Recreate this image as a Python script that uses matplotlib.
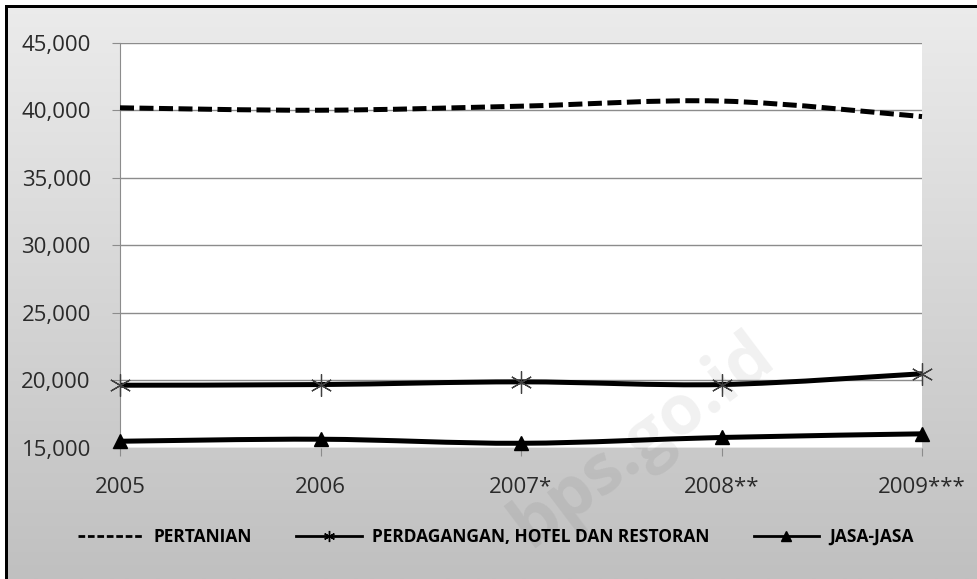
import matplotlib
matplotlib.use("Agg")
import matplotlib.pyplot as plt
import numpy as np
from matplotlib.path import Path
from matplotlib.patches import PathPatch, Rectangle
from matplotlib.lines import Line2D
from matplotlib.font_manager import FontProperties

# ---- data -------------------------------------------------------------
years = ["2005", "2006", "2007*", "2008**", "2009***"]
pertanian = [40200, 40020, 40320, 40700, 39550]
perdagangan = [19650, 19700, 19900, 19700, 20500]
jasa = [15500, 15650, 15350, 15780, 16050]
y_ticks = [15000, 20000, 25000, 30000, 35000, 40000, 45000]
series_names = ["PERTANIAN", "PERDAGANGAN, HOTEL DAN RESTORAN", "JASA-JASA"]

W, H = 977, 579
TICK_FONT = "Open Sans"


def smooth_path(xs, ys):
    """Cubic Bezier path through the points (Catmull-Rom style smoothing)."""
    pts = np.column_stack([xs, ys]).astype(float)
    n = len(pts)
    verts = [pts[0]]
    codes = [Path.MOVETO]
    for i in range(n - 1):
        p0 = pts[max(i - 1, 0)]
        p1 = pts[i]
        p2 = pts[i + 1]
        p3 = pts[min(i + 2, n - 1)]
        verts += [p1 + (p2 - p0) / 6.0, p2 - (p3 - p1) / 6.0, p2]
        codes += [Path.CURVE4] * 3
    return Path(verts, codes)


fig = plt.figure(figsize=(W / 100, H / 100), dpi=100)

# ---- gradient background with frame ------------------------------------
bg = fig.add_axes([0, 0, 1, 1], zorder=-10)
shade = np.linspace(236, 192, H)[:, None, None] / 255.0
grad = np.repeat(shade, 3, axis=2)
bg.imshow(grad, aspect="auto", extent=[0, W, H, 0], interpolation="bilinear")
bg.add_patch(Rectangle((0, 0), 5, H, color="white", lw=0))
bg.add_patch(Rectangle((0, 0), W, 5, color="white", lw=0))
bg.add_patch(Rectangle((5, 5), 3, H, color="black", lw=0))
bg.add_patch(Rectangle((5, 5), W, 3, color="black", lw=0))
bg.set_xlim(0, W)
bg.set_ylim(H, 0)
bg.axis("off")

# ---- plot area ----------------------------------------------------------
left, right, top, bottom = 120, 922, 43, 448
ax = fig.add_axes([left / W, (H - bottom) / H, (right - left) / W, (bottom - top) / H])
ax.set_facecolor("white")
ax.set_xlim(0, 4)
ax.set_ylim(15000, 45000)
ax.set_axisbelow(True)

x = np.arange(len(years))
ax.set_xticks(x)
ax.set_xticklabels(years)
ax.set_yticks(y_ticks)
ax.set_yticklabels([f"{v:,}" for v in y_ticks])
ax.yaxis.grid(True, color="#8c8c8c", lw=1.0)

for s in ("top", "right", "bottom"):
    ax.spines[s].set_visible(False)
ax.spines["left"].set_color("#8c8c8c")
ax.spines["left"].set_linewidth(0.8)

ax.tick_params(axis="y", length=6, width=0.8, color="#8c8c8c", pad=15,
               labelsize=16, labelcolor="#2a2a2a")
ax.tick_params(axis="x", length=6, width=0.8, color="#8c8c8c", pad=15,
               labelsize=16, labelcolor="#2a2a2a")
for lab in ax.get_xticklabels() + ax.get_yticklabels():
    lab.set_fontfamily(TICK_FONT)

# ---- series -------------------------------------------------------------
ax.add_patch(PathPatch(smooth_path(x, pertanian), fill=False, lw=3.6,
                       ls=(0, (2.8, 1.1)), ec="black", capstyle="butt",
                       clip_on=False, zorder=3))
ax.add_patch(PathPatch(smooth_path(x, perdagangan), fill=False, lw=3.6,
                       ec="black", clip_on=False, zorder=3))
ax.plot(x, perdagangan, ls="none", marker=(6, 2, 0), ms=16, mew=0.9,
        mec="#404040", clip_on=False, zorder=4)
ax.add_patch(PathPatch(smooth_path(x, jasa), fill=False, lw=3.6,
                       ec="black", clip_on=False, zorder=3))
ax.plot(x, jasa, ls="none", marker="^", ms=10, color="black",
        clip_on=False, zorder=4)

# ---- legend -------------------------------------------------------------
handles = [
    Line2D([], [], color="black", lw=2, ls=(0, (2.4, 1.0))),
    Line2D([], [], color="black", lw=2, marker=(6, 2, 0), ms=8, mew=1),
    Line2D([], [], color="black", lw=2, marker="^", ms=7),
]
fig.legend(handles, series_names, loc="center",
           bbox_to_anchor=(496 / W, 1 - 537 / H), ncol=3, frameon=False,
           prop=FontProperties(family=TICK_FONT, weight="bold", size=12.5),
           handlelength=3.75, handletextpad=0.6, columnspacing=2.55,
           numpoints=1)

# ---- faint site mark ----------------------------------------------------
fig.text(778 / W, 1 - 362 / H, "bps.go.id", rotation=37,
         rotation_mode="anchor", ha="right", va="baseline",
         fontsize=50, fontweight="bold", family=TICK_FONT,
         color="black", alpha=0.06, zorder=20)

fig.savefig("out.png", dpi=100)
